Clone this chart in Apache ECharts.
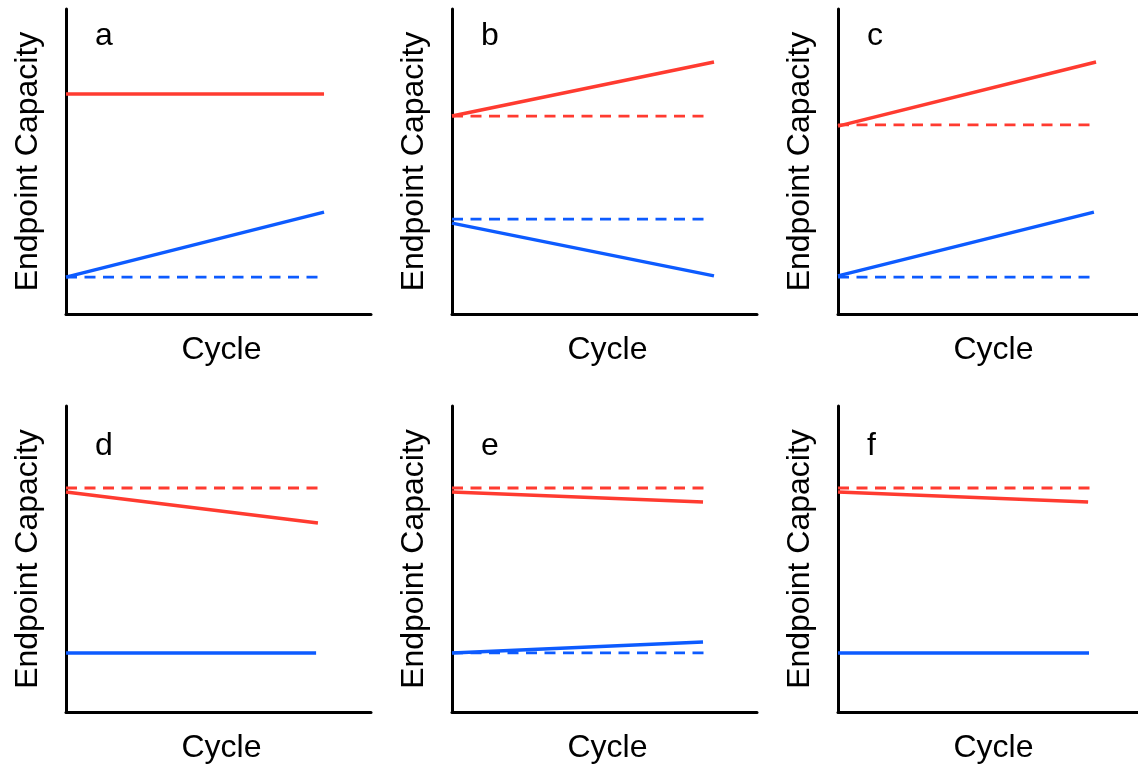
<!DOCTYPE html>
<html>
<head>
<meta charset="utf-8">
<style>
  html, body { margin: 0; padding: 0; background: #ffffff; overflow: hidden; }
  #wrap { width: 1138px; height: 765px; overflow: hidden; }
  #chart { width: 1150px; height: 765px; }
</style>
<script src="https://cdn.jsdelivr.net/npm/echarts@6/dist/echarts.min.js"></script>
</head>
<body>
<div id="wrap"><div id="chart"></div></div>
<script>
// Six schematic panels: endpoint capacity of two electrodes versus cycle.
// Values are on a 0-100 scale on both axes; null means no such line in that panel.
const panelLetters = ['a', 'b', 'c', 'd', 'e', 'f'];

// red (upper endpoint), solid: start value, end value, end cycle
const redSolidStart = [72.1, 64.9, 61.6, 71.9, 71.9, 71.9];
const redSolidEnd   = [72.1, 82.6, 82.6, 61.8, 68.6, 68.6];
const redSolidEndX  = [84.6, 85.9, 84.6, 82.6, 82.3, 82.0];

// red, dashed reference level
const redDashLevel = [null, 64.9, 62.0, 73.2, 73.2, 73.2];
const redDashEndX  = [null, 83.9, 83.6, 83.3, 83.6, 83.6];

// blue (lower endpoint), solid
const blueSolidStart = [12.1, 29.8, 12.5, 19.3, 19.3, 19.3];
const blueSolidEnd   = [33.4, 12.5, 33.4, 19.3, 22.9, 19.3];
const blueSolidEndX  = [84.6, 85.9, 83.9, 82.0, 82.3, 82.3];

// blue, dashed reference level
const blueDashLevel = [12.1, 31.1, 12.1, null, 19.3, null];
const blueDashEndX  = [84.3, 83.9, 83.6, null, 83.6, null];

const xAxisName = 'Cycle';
const yAxisName = 'Endpoint Capacity';

const RED = '#ff3b30';
const BLUE = '#0d5bff';
const FONT = 'Liberation Sans, Arial, Helvetica, sans-serif';

const colLeft = [66, 452, 838];
const rowTop = [9, 406];
const rowHeight = [305, 306];
const panelWidth = 305;

const grids = [], xAxes = [], yAxes = [], series = [], titles = [];

panelLetters.forEach((letter, i) => {
  const col = i % 3, row = Math.floor(i / 3);
  grids.push({
    left: colLeft[col], top: rowTop[row],
    width: panelWidth, height: rowHeight[row],
    containLabel: false
  });
  xAxes.push({
    type: 'value', gridIndex: i, min: 0, max: 100,
    name: xAxisName, nameLocation: 'middle', nameGap: 20,
    nameTextStyle: { fontSize: 32, color: '#000', fontFamily: FONT, padding: [0, 0, 0, 6] },
    axisLine: { show: true, onZero: false, lineStyle: { color: '#000', width: 3 } },
    axisTick: { show: false }, axisLabel: { show: false }, splitLine: { show: false }
  });
  yAxes.push({
    type: 'value', gridIndex: i, min: 0, max: 100,
    name: yAxisName, nameLocation: 'middle', nameGap: 22,
    nameTextStyle: { fontSize: 32, color: '#000', fontFamily: FONT },
    axisLine: { show: true, onZero: false, lineStyle: { color: '#000', width: 3 } },
    axisTick: { show: false }, axisLabel: { show: false }, splitLine: { show: false }
  });
  titles.push({
    text: letter,
    left: colLeft[col] + 29, top: row === 0 ? 20 : 430,
    textStyle: { fontSize: 32, fontWeight: 'normal', color: '#000', fontFamily: FONT },
    padding: 0
  });

  const line = (data, color, dashed) => ({
    type: 'line', xAxisIndex: i, yAxisIndex: i,
    data, symbol: 'none', silent: true, z: dashed ? 2 : 3,
    lineStyle: dashed
      ? { color, width: 2.8, type: [11, 7.5], cap: 'butt' }
      : { color, width: 3.5, cap: 'butt' }
  });

  if (redDashLevel[i] !== null) {
    series.push(line([[0, redDashLevel[i]], [redDashEndX[i], redDashLevel[i]]], RED, true));
  }
  series.push(line([[0, redSolidStart[i]], [redSolidEndX[i], redSolidEnd[i]]], RED, false));
  if (blueDashLevel[i] !== null) {
    series.push(line([[0, blueDashLevel[i]], [blueDashEndX[i], blueDashLevel[i]]], BLUE, true));
  }
  series.push(line([[0, blueSolidStart[i]], [blueSolidEndX[i], blueSolidEnd[i]]], BLUE, false));
});

const chart = echarts.init(document.getElementById('chart'), null, { renderer: 'canvas' });
chart.setOption({
  animation: false,
  backgroundColor: '#ffffff',
  title: titles,
  grid: grids,
  xAxis: xAxes,
  yAxis: yAxes,
  series
});
</script>
</body>
</html>
